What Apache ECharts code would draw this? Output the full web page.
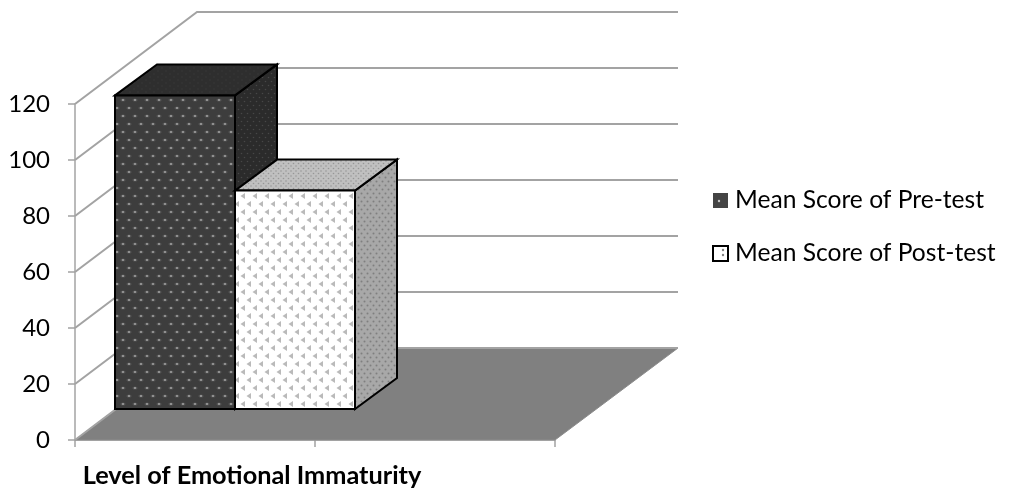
<!DOCTYPE html>
<html>
<head>
<meta charset="utf-8">
<style>html,body{margin:0;padding:0;background:#fff}#chart{width:1009px;height:488px}</style>
<script src="https://cdn.jsdelivr.net/npm/echarts@6/dist/echarts.min.js"></script>
</head>
<body>
<div id="chart"></div>
<script>
var categories = ['Level of Emotional Immaturity', ''];
var seriesNames = ['Mean Score of Pre-test', 'Mean Score of Post-test'];
var preTest = [112, null];
var postTest = [78, null];
var yTicks = [0, 20, 40, 60, 80, 100, 120];

// 3d look, pixels
var WALL_DX = 122, WALL_DY = 92;
var BAR_DX = 42, BAR_DY = 31;
var FRONT_DX = 40, FRONT_DY = 31;

function tile(w, h, bg, draw) {
  var c = document.createElement('canvas');
  c.width = w; c.height = h;
  var ctx = c.getContext('2d');
  ctx.fillStyle = bg;
  ctx.fillRect(0, 0, w, h);
  draw(ctx);
  return { image: c, repeat: 'repeat' };
}
function dots(pts, color, r, halo) {
  return function (ctx) {
    pts.forEach(function (p) {
      if (halo) {
        ctx.fillStyle = halo;
        ctx.beginPath();
        ctx.ellipse(p[0], p[1], r * 2.6, r * 1.5, 0, 0, Math.PI * 2);
        ctx.fill();
      }
      ctx.fillStyle = color;
      ctx.beginPath();
      ctx.arc(p[0], p[1], r, 0, Math.PI * 2);
      ctx.fill();
    });
  };
}
function tris(pts, color) {
  return function (ctx) {
    ctx.fillStyle = color;
    pts.forEach(function (p) {
      ctx.beginPath();
      ctx.moveTo(p[0] - 2.5, p[1]);
      ctx.lineTo(p[0] + 2, p[1] - 3);
      ctx.lineTo(p[0] + 2, p[1] + 3);
      ctx.closePath();
      ctx.fill();
    });
  };
}
var stagger = [[3, 4], [9, 12]];
var diag = [[1.5, 1.5], [4.5, 5.5]];
var patterns = [
  {
    front: tile(12, 16, '#3d3d3d', dots(stagger, '#a4a4a4', 1, '#565656')),
    side: tile(6, 8, '#2b2b2b', dots(diag, '#474747', 0.8)),
    top: tile(8, 6, '#2e2e2e', dots([[2, 2], [6, 5]], '#3a3a3a', 0.8))
  },
  {
    front: tile(12, 16, '#ffffff', tris(stagger, '#bababa')),
    side: tile(6, 8, '#a8a8a8', dots(diag, '#7f7f7f', 1)),
    top: tile(5, 5, '#c0c0c0', dots([[1, 1], [3.5, 3.5]], '#979797', 0.8))
  }
];
var legendIcons = [
  tile(15, 15, '#444444', dots([[6, 8]], '#c8c8c8', 1.2)),
  tile(15, 15, '#ffffff', dots([[10, 4], [10, 9]], '#808080', 1.2))
];

function renderWall(params, api) {
  var p = api.coord([0, api.value(0)]);
  var band = api.size([1, 0])[0];
  var x0 = p[0] - band / 2;
  var y0 = p[1];
  return {
    type: 'polyline',
    shape: { points: [[x0, y0], [x0 + WALL_DX, y0 - WALL_DY], [x0 + band * 2 + WALL_DX + 1, y0 - WALL_DY]] },
    style: { fill: null, stroke: '#a3a3a3', lineWidth: 2 },
    silent: true
  };
}

function renderFloor(params, api) {
  var p = api.coord([0, 0]);
  var band = api.size([1, 0])[0];
  var x0 = p[0] - band / 2;
  return {
    type: 'polygon',
    shape: { points: [[x0, p[1]], [x0 + WALL_DX, p[1] - WALL_DY], [x0 + band * 2 + WALL_DX + 1, p[1] - WALL_DY], [x0 + band * 2, p[1]]] },
    style: { fill: '#808080', stroke: '#8c8c8c', lineWidth: 1 },
    silent: true
  };
}

function barRenderer(index) {
  return function (params, api) {
    var val = api.value(1);
    if (val == null || isNaN(val)) return null;
    var top = api.coord([api.value(0), val]);
    var base = api.coord([api.value(0), 0]);
    var w = api.size([1, 0])[0] / 2;
    var x1 = top[0] - w + index * w + FRONT_DX;
    var x2 = x1 + w;
    var yt = top[1] - FRONT_DY;
    var yb = base[1] - FRONT_DY;
    var edge = { stroke: '#000', lineWidth: 2, lineJoin: 'miter' };
    var pat = patterns[index];
    return {
      type: 'group',
      children: [
        { type: 'polygon', shape: { points: [[x2, yt], [x2 + BAR_DX, yt - BAR_DY], [x2 + BAR_DX, yb - BAR_DY], [x2, yb]] },
          style: Object.assign({ fill: pat.side }, edge) },
        { type: 'polygon', shape: { points: [[x1, yt], [x1 + BAR_DX, yt - BAR_DY], [x2 + BAR_DX, yt - BAR_DY], [x2, yt]] },
          style: Object.assign({ fill: pat.top }, edge) },
        { type: 'rect', shape: { x: x1, y: yt, width: w, height: yb - yt },
          style: Object.assign({ fill: pat.front }, edge) }
      ]
    };
  };
}

var chart = echarts.init(document.getElementById('chart'));
chart.setOption({
  animation: false,
  backgroundColor: '#fff',
  textStyle: { fontFamily: 'Lato' },
  grid: { left: 75, top: 104, width: 480, height: 336 },
  legend: {
    orient: 'vertical',
    left: 707,
    top: 183,
    itemWidth: 15,
    itemHeight: 15,
    itemGap: 28,
    icon: 'rect',
    selectedMode: false,
    formatter: function (name) { return '{a|' + name + '}'; },
    textStyle: {
      fontFamily: 'Lato', fontSize: 24.6, color: '#000',
      rich: { a: { fontFamily: 'Lato', fontSize: 24.6, color: '#000', padding: [0, 0, 0, 2] } }
    },
    data: [
      { name: seriesNames[0], itemStyle: { color: legendIcons[0], borderColor: '#444', borderWidth: 0 } },
      { name: seriesNames[1], itemStyle: { color: legendIcons[1], borderColor: '#000', borderWidth: 2 } }
    ]
  },
  xAxis: {
    type: 'category',
    data: categories,
    axisLine: { show: true, lineStyle: { color: '#a3a3a3', width: 1.5 } },
    axisTick: { show: true, length: 7, alignWithLabel: false, lineStyle: { color: '#a3a3a3', width: 1.5 } },
    axisLabel: {
      interval: 0,
      margin: 23,
      fontFamily: 'Lato',
      fontSize: 25.3,
      fontWeight: 'bold',
      color: '#000',
      align: 'center',
      padding: [0, 0, 0, 114]
    }
  },
  yAxis: {
    type: 'value',
    min: 0,
    max: 120,
    interval: 20,
    splitLine: { show: false },
    axisLine: { show: true, lineStyle: { color: '#a3a3a3', width: 1.5 } },
    axisTick: { show: true, length: 7, lineStyle: { color: '#a3a3a3', width: 1.5 } },
    axisLabel: { margin: 25, fontFamily: 'Lato', fontSize: 24, color: '#000', padding: [3, 0, 0, 0] }
  },
  series: [
    { type: 'custom', silent: true, z: 1, renderItem: renderFloor, data: [[0]], encode: { x: 0 } , clip: false },
    { type: 'custom', silent: true, z: 1, renderItem: renderWall, data: yTicks.map(function (v) { return [v]; }), encode: { y: 0 }, clip: false },
    { type: 'custom', name: seriesNames[0], z: 2, renderItem: barRenderer(0), clip: false,
      itemStyle: { color: legendIcons[0] },
      encode: { x: 0, y: 1 }, data: preTest.map(function (v, i) { return [i, v]; }) },
    { type: 'custom', name: seriesNames[1], z: 3, renderItem: barRenderer(1), clip: false,
      itemStyle: { color: legendIcons[1] },
      encode: { x: 0, y: 1 }, data: postTest.map(function (v, i) { return [i, v]; }) }
  ]
});
</script>
</body>
</html>
